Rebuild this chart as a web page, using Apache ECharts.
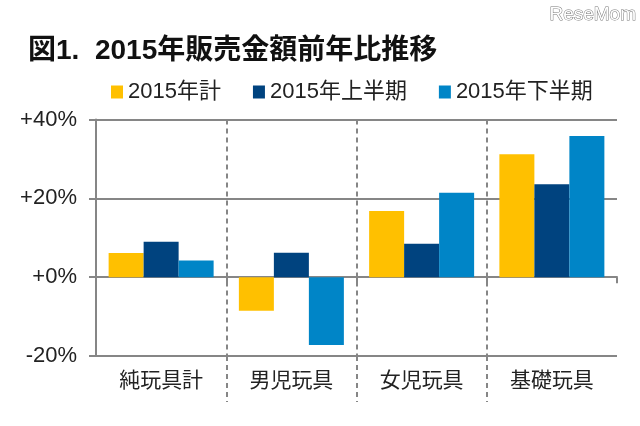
<!DOCTYPE html>
<html><head><meta charset="utf-8">
<script src="https://cdn.jsdelivr.net/npm/echarts@6/dist/echarts.min.js"></script>
<style>html,body{margin:0;padding:0;background:#fff}#c{width:640px;height:426px}</style>
</head><body><div id="c"></div>
<script>
const categories = ['純玩具計','男児玩具','女児玩具','基礎玩具'];
const seriesNames = ['2015年計','2015年上半期','2015年下半期'];
const total = [6.1, -8.5, 16.8, 31.2];
const firstHalf = [9.0, 6.2, 8.5, 23.6];
const secondHalf = [4.2, -17.2, 21.4, 35.8];
const colors = ['#FFC000','#00437F','#0085C7'];
const FONT = '"Liberation Sans","Noto Sans CJK JP",sans-serif';
const GRAY = '#868686';
const chart = echarts.init(document.getElementById('c'));
chart.setOption({
  backgroundColor:'#fff',
  animation:false,
  title:[
    {text:'図1.  2015年販売金額前年比推移',left:28,top:37,padding:0,
     textStyle:{fontFamily:FONT,fontSize:28,fontWeight:'bold',color:'#111'}},
    {text:'ReseMom',right:3,top:5,padding:0,
     textStyle:{fontFamily:FONT,fontSize:19,fontWeight:'normal',color:'#fff',textBorderColor:'#777',textBorderWidth:1}}
  ],
  legend:{left:111,top:81,padding:0,itemWidth:12,itemHeight:13,itemGap:32,icon:'rect',
    textStyle:{fontFamily:FONT,fontSize:22,color:'#222'},
    data:seriesNames},
  grid:{left:96,right:23,top:119.5,bottom:70,outerBoundsMode:'none'},
  xAxis:[
    {type:'category',data:categories,position:'bottom',
     axisLine:{onZero:true,lineStyle:{color:GRAY,width:2}},
     axisTick:{show:true,length:6,lineStyle:{color:GRAY,width:2}},
     axisLabel:{margin:15,fontFamily:FONT,fontSize:21,color:'#222',interval:0},
     splitLine:{show:false}},
    {type:'value',min:0,max:4,position:'bottom',
     axisLine:{show:false,onZero:false},
     axisTick:{show:true,inside:false,length:46,customValues:[1,2,3],lineStyle:{color:GRAY,width:2,type:[5,4]}},
     axisLabel:{show:false},
     splitLine:{show:true,lineStyle:{color:GRAY,width:2,type:[5,4]}}}
  ],
  yAxis:{type:'value',min:-20,max:40,interval:20,
    axisLine:{show:true,onZero:false,lineStyle:{color:GRAY,width:2}},
    axisTick:{show:true,length:7,lineStyle:{color:GRAY,width:2}},
    axisLabel:{margin:19,fontFamily:FONT,fontSize:22,color:'#222',
      formatter:v=>(v>=0?'+':'')+v+'%'},
    splitLine:{show:true,lineStyle:{color:GRAY,width:2}}},
  series:[total,firstHalf,secondHalf].map((d,i)=>({
    name:seriesNames[i],type:'bar',data:d,barWidth:35,barGap:0,xAxisIndex:0,
    itemStyle:{color:colors[i]}}))
});
</script></body></html>
